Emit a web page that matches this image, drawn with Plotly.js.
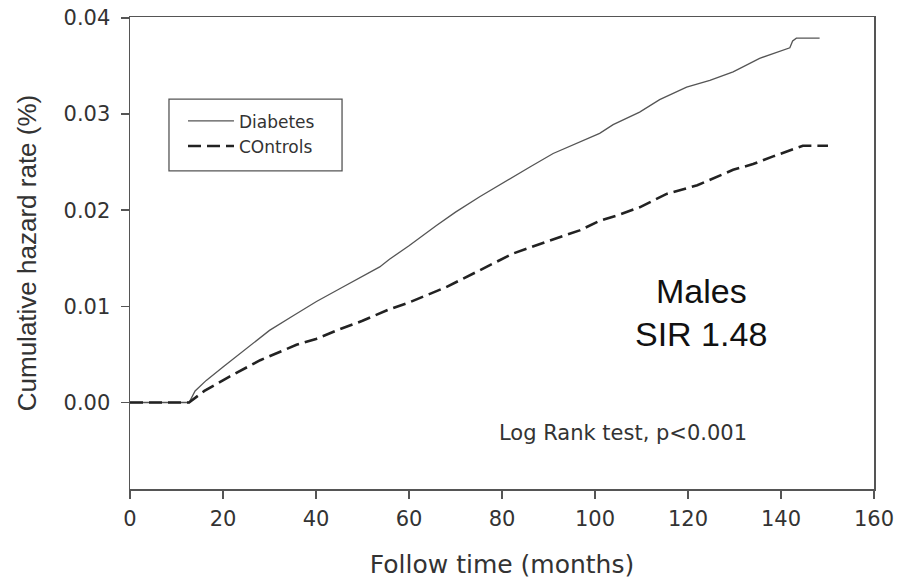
<!DOCTYPE html>
<html>
<head>
<meta charset="utf-8">
<script src="https://cdn.plot.ly/plotly-3.0.1.min.js"></script>
<style>
  html, body { margin: 0; padding: 0; background: #fff; }
  #chart { width: 897px; height: 579px; }
</style>
</head>
<body>
<div id="chart"></div>
<script>
// Follow-up time in months and cumulative hazard, diabetes cohort
const diabetesMonths = [0, 12.7, 14, 16.4, 20, 25, 30, 35, 40.1, 45, 50, 53.7, 55.8, 60, 65.9, 70, 75.2, 80, 82.4, 86, 91, 96.7, 101, 103.9, 109.6, 113.9, 119.7, 124.7, 129.7, 135.4, 141.9, 142.5, 143.3, 148.3];
const diabetesHazard = [0, 0, 0.0012, 0.0023, 0.0037, 0.0056, 0.0075, 0.0090, 0.0105, 0.0118, 0.0131, 0.0141, 0.0149, 0.0163, 0.0184, 0.0198, 0.0214, 0.0228, 0.0235, 0.0245, 0.0259, 0.0271, 0.0280, 0.0289, 0.0302, 0.0315, 0.0328, 0.0335, 0.0344, 0.0358, 0.0369, 0.0376, 0.0379, 0.0379];

// Matched controls
const controlMonths = [0, 12.7, 16, 21.4, 28, 35.8, 40, 45, 50, 55.8, 60, 68, 75, 82.4, 90, 96.7, 101, 105, 109.6, 115.4, 122, 129.7, 134, 138.3, 144.7, 150.1];
const controlHazard = [0, 0, 0.0012, 0.0027, 0.0044, 0.0060, 0.0066, 0.0076, 0.0085, 0.0097, 0.0104, 0.0120, 0.0137, 0.0155, 0.0168, 0.0179, 0.0189, 0.0195, 0.0203, 0.0217, 0.0226, 0.0242, 0.0248, 0.0256, 0.0267, 0.0267];

const seriesNames = ['Diabetes', 'COntrols'];
const xTicks = [0, 20, 40, 60, 80, 100, 120, 140, 160];
const yTicks = [0.00, 0.01, 0.02, 0.03, 0.04];

const WIDE = 'DejaVu Sans, Arial, sans-serif';
const ARIAL = 'Liberation Sans, Arial, sans-serif';
const AXIS_COLOR = '#555';
const TEXT_COLOR = '#333';

const traces = [
  {
    x: diabetesMonths, y: diabetesHazard, name: seriesNames[0],
    type: 'scatter', mode: 'lines',
    line: { color: '#555', width: 1.3 }
  },
  {
    x: controlMonths, y: controlHazard, name: seriesNames[1],
    type: 'scatter', mode: 'lines',
    line: { color: '#222', width: 2.6, dash: '13px,6px' }
  }
];

const layout = {
  width: 897, height: 579,
  margin: { l: 130, r: 23, t: 17, b: 90 },
  paper_bgcolor: '#fff', plot_bgcolor: '#fff',
  font: { family: WIDE, color: TEXT_COLOR },
  showlegend: true,
  legend: {
    x: 0.0712, y: 0.817, xanchor: 'left', yanchor: 'top',
    bgcolor: 'rgba(0,0,0,0)', borderwidth: 0,
    itemwidth: 46,
    font: { family: WIDE, size: 17, color: TEXT_COLOR },
    tracegroupgap: 0
  },
  xaxis: {
    range: [0, 160], tickvals: xTicks, ticktext: xTicks.map(String),
    showgrid: false, zeroline: false,
    showline: true, linecolor: AXIS_COLOR, linewidth: 1.5, mirror: true,
    ticks: 'outside', ticklen: 8, tickwidth: 1.5, tickcolor: AXIS_COLOR,
    ticklabelstandoff: 2,
    tickfont: { family: WIDE, size: 21, color: TEXT_COLOR },
    title: { text: 'Follow time (months)', font: { family: WIDE, size: 25, color: TEXT_COLOR }, standoff: 30 }
  },
  yaxis: {
    range: [-0.009, 0.0401], tickvals: yTicks, ticktext: yTicks.map(v => v.toFixed(2)),
    showgrid: false, zeroline: false,
    showline: true, linecolor: AXIS_COLOR, linewidth: 1.5, mirror: true,
    ticks: 'outside', ticklen: 8, tickwidth: 1.5, tickcolor: AXIS_COLOR,
    ticklabelstandoff: 6,
    tickfont: { family: WIDE, size: 21, color: TEXT_COLOR },
    title: { text: 'Cumulative hazard rate (%)', font: { family: ARIAL, size: 26, color: TEXT_COLOR }, standoff: 19 }
  },
  shapes: [
    {
      type: 'rect', xref: 'paper', yref: 'paper',
      x0: 0.0524, x1: 0.285, y0: 0.674, y1: 0.826,
      line: { color: AXIS_COLOR, width: 1.3 }, fillcolor: 'rgba(0,0,0,0)'
    }
  ],
  annotations: [
    {
      text: 'Males', x: 0.768, y: 0.4195, xref: 'paper', yref: 'paper',
      xanchor: 'center', yanchor: 'middle', showarrow: false,
      font: { family: ARIAL, size: 34, color: '#111' }
    },
    {
      text: 'SIR 1.48', x: 0.768, y: 0.3285, xref: 'paper', yref: 'paper',
      xanchor: 'center', yanchor: 'middle', showarrow: false,
      font: { family: ARIAL, size: 34, color: '#111' }
    },
    {
      text: 'Log Rank test, p<0.001', x: 0.662, y: 0.118, xref: 'paper', yref: 'paper',
      xanchor: 'center', yanchor: 'middle', showarrow: false,
      font: { family: WIDE, size: 21, color: TEXT_COLOR }
    }
  ]
};

Plotly.newPlot('chart', traces, layout, { displayModeBar: false, staticPlot: true });
</script>
</body>
</html>
